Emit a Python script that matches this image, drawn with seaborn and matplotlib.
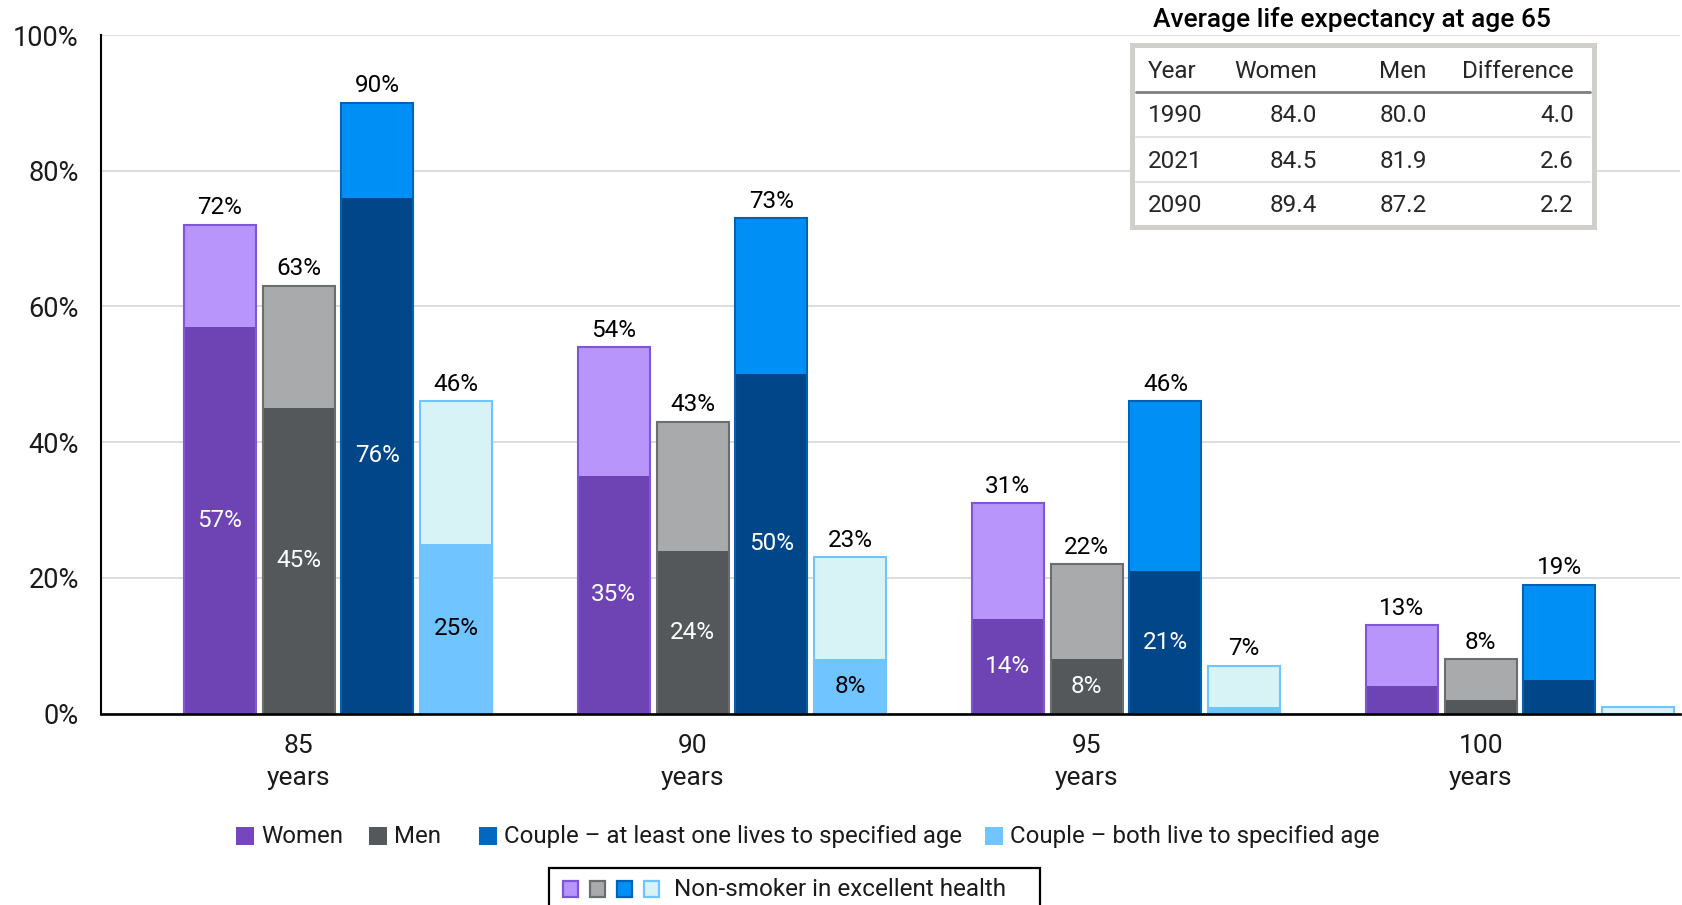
import numpy as np
import pandas as pd
import matplotlib
matplotlib.use("Agg")
import matplotlib.pyplot as plt
from matplotlib.patches import Rectangle
from matplotlib.lines import Line2D
import seaborn as sns

# ---- data -------------------------------------------------------------
ages = ["85\nyears", "90\nyears", "95\nyears", "100\nyears"]
series = ["Women", "Men",
          "Couple \u2013 at least one lives to specified age",
          "Couple \u2013 both live to specified age"]

# probability of reaching each age (average health)
women_base = [57, 35, 14, 4]
men_base = [45, 24, 8, 2]
couple_one_base = [76, 50, 21, 5]
couple_both_base = [25, 8, 1, 0]

# probability of reaching each age (non-smoker in excellent health)
women_best = [72, 54, 31, 13]
men_best = [63, 43, 22, 8]
couple_one_best = [90, 73, 46, 19]
couple_both_best = [46, 23, 7, 1]

# life expectancy table
table_years = ["1990", "2021", "2090"]
table_women = [84.0, 84.5, 89.4]
table_men = [80.0, 81.9, 87.2]

# ---- styling ----------------------------------------------------------
dark_colors = ["#6E44B5", "#54585A", "#004689", "#70C4FF"]
light_colors = ["#B895FB", "#A9AAAC", "#0090F5", "#D8F3F6"]
edge_colors = ["#7E57D6", "#6B6E70", "#0062B4", "#70C4FF"]
legend_colors = ["#7646C0", "#54585A", "#0068BF", "#70C4FF"]
inside_text = ["white", "white", "white", "black"]

sns.set_theme(style="white")
plt.rcParams["font.family"] = ["Roboto", "DejaVu Sans"]

W, H = 1683, 905
fig = plt.figure(figsize=(W / 100, H / 100), dpi=100)


def fx(px):
    return px / W


def fy(py):
    return 1 - py / H


ax = fig.add_axes([fx(101), fy(713.5), fx(1680) - fx(101), fy(35) - fy(713.5)])


def long_frame(columns):
    rows = []
    for s, vals in zip(series, columns):
        for a, v in zip(ages, vals):
            rows.append({"age": a, "series": s, "value": v})
    return pd.DataFrame(rows)


base_df = long_frame([women_base, men_base, couple_one_base, couple_both_base])
best_df = long_frame([women_best, men_best, couple_one_best, couple_both_best])

common = dict(x="age", y="value", hue="series", order=ages, hue_order=series,
              errorbar=None, saturation=1, gap=0.087, width=0.8,
              legend=False, ax=ax, linewidth=0)

# light fill for the full (excellent health) bar
sns.barplot(data=best_df, palette=dict(zip(series, light_colors)), **common)
best_fill = list(ax.containers[0:4])
# dark fill for the average-health portion
sns.barplot(data=base_df, palette=dict(zip(series, dark_colors)), **common)
base_fill = list(ax.containers[4:8])
# outline drawn on top of both layers
sns.barplot(data=best_df, palette=dict(zip(series, light_colors)), **common)
best_outline = list(ax.containers[8:12])

for k in range(4):
    for p in best_fill[k]:
        p.set_zorder(2)
    for p in base_fill[k]:
        p.set_zorder(3)
    for p in best_outline[k]:
        p.set_facecolor("none")
        p.set_edgecolor(edge_colors[k])
        p.set_linewidth(1.5)
        p.set_zorder(4)

best_vals = [women_best, men_best, couple_one_best, couple_both_best]
base_vals = [women_base, men_base, couple_one_base, couple_both_base]
for k in range(4):
    ax.bar_label(best_outline[k],
                 labels=[f"{v}%" if v >= 5 else "" for v in best_vals[k]],
                 padding=4, fontsize=17.5, color="black", zorder=6)
    ax.bar_label(base_fill[k],
                 labels=[f"{v}%" if v >= 8 else "" for v in base_vals[k]],
                 label_type="center", fontsize=17.5, color=inside_text[k], zorder=6)

# ---- axes -------------------------------------------------------------
ax.set_ylim(0, 100)
ax.set_xlim(-0.6015, 3.406)
ax.set_yticks([0, 20, 40, 60, 80, 100])
ax.set_yticklabels([f"{t}%" for t in [0, 20, 40, 60, 80, 100]])
ax.set_xticks([i - 0.1 for i in range(len(ages))])
ax.set_xticklabels(ages, linespacing=1.4)
ax.set_xlabel("")
ax.set_ylabel("")
ax.tick_params(axis="y", length=0, pad=16, labelsize=19.5, labelcolor="#1a1a1a")
ax.tick_params(axis="x", length=0, pad=15, labelsize=19, labelcolor="#1a1a1a")
ax.yaxis.grid(True, color="#D3D3D3", linewidth=1.1)
ax.xaxis.grid(False)
ax.set_axisbelow(True)
for side in ["top", "right"]:
    ax.spines[side].set_visible(False)
ax.spines["left"].set_color("black")
ax.spines["left"].set_linewidth(1.5)
ax.spines["bottom"].set_color("black")
ax.spines["bottom"].set_linewidth(1.9)
ax.spines["bottom"].set_zorder(5)

# ---- life expectancy table ----------------------------------------------
fig.text(fx(1153), fy(20), "Average life expectancy at age 65", fontsize=19,
         fontweight="medium", ha="left", va="center", color="black")
fig.patches.append(Rectangle((fx(1132), fy(227)), fx(1594) - fx(1132), fy(45) - fy(227),
                             transform=fig.transFigure, facecolor="white",
                             edgecolor="#D0CFCB", linewidth=3.6, zorder=10))
col_x = [1148, 1317, 1427, 1574]
col_ha = ["left", "right", "right", "right"]
headers = ["Year", "Women", "Men", "Difference"]
row_y = [71, 116, 161, 206]
for x, ha, t in zip(col_x, col_ha, headers):
    fig.text(fx(x), fy(row_y[0]), t, fontsize=17.5, ha=ha, va="center", zorder=11)
table_diff = [round(w - m, 1) for w, m in zip(table_women, table_men)]
for r, (yr, w, m, d) in enumerate(zip(table_years, table_women, table_men, table_diff)):
    vals = [yr, f"{w:.1f}", f"{m:.1f}", f"{d:.1f}"]
    for x, ha, t in zip(col_x, col_ha, vals):
        fig.text(fx(x), fy(row_y[r + 1]), t, fontsize=17.5, ha=ha, va="center", zorder=11)
fig.lines.append(Line2D([fx(1136), fx(1590)], [fy(92), fy(92)], transform=fig.transFigure,
                        color="#7F7F7F", linewidth=2, zorder=11))
for yy in [137, 182]:
    fig.lines.append(Line2D([fx(1136), fx(1590)], [fy(yy), fy(yy)], transform=fig.transFigure,
                            color="#E2E2E2", linewidth=1.5, zorder=11))

# ---- legend -----------------------------------------------------------
leg_y = 836
leg_sq = [236, 369, 479, 985]
for x, c, s in zip(leg_sq, legend_colors, series):
    fig.patches.append(Rectangle((fx(x), fy(leg_y + 9)), fx(18), 18 / H,
                                 transform=fig.transFigure, facecolor=c,
                                 edgecolor="none", zorder=10))
    fig.text(fx(x + 25), fy(leg_y), s, fontsize=17.3, ha="left", va="center", color="#1a1a1a")

# health status box
fig.patches.append(Rectangle((fx(549), fy(930)), fx(1040) - fx(549), fy(868) - fy(930),
                             transform=fig.transFigure, facecolor="none",
                             edgecolor="black", linewidth=1.6, zorder=10))
for x, fc, ec in zip([563, 590, 617, 644], light_colors, edge_colors):
    fig.patches.append(Rectangle((fx(x), fy(897)), fx(15), 16 / H,
                                 transform=fig.transFigure, facecolor=fc,
                                 edgecolor=ec, linewidth=1.6, zorder=10))
fig.text(fx(674), fy(889), "Non-smoker in excellent health", fontsize=17.5,
         ha="left", va="center", color="#1a1a1a")

fig.savefig("out.png", dpi=100)
